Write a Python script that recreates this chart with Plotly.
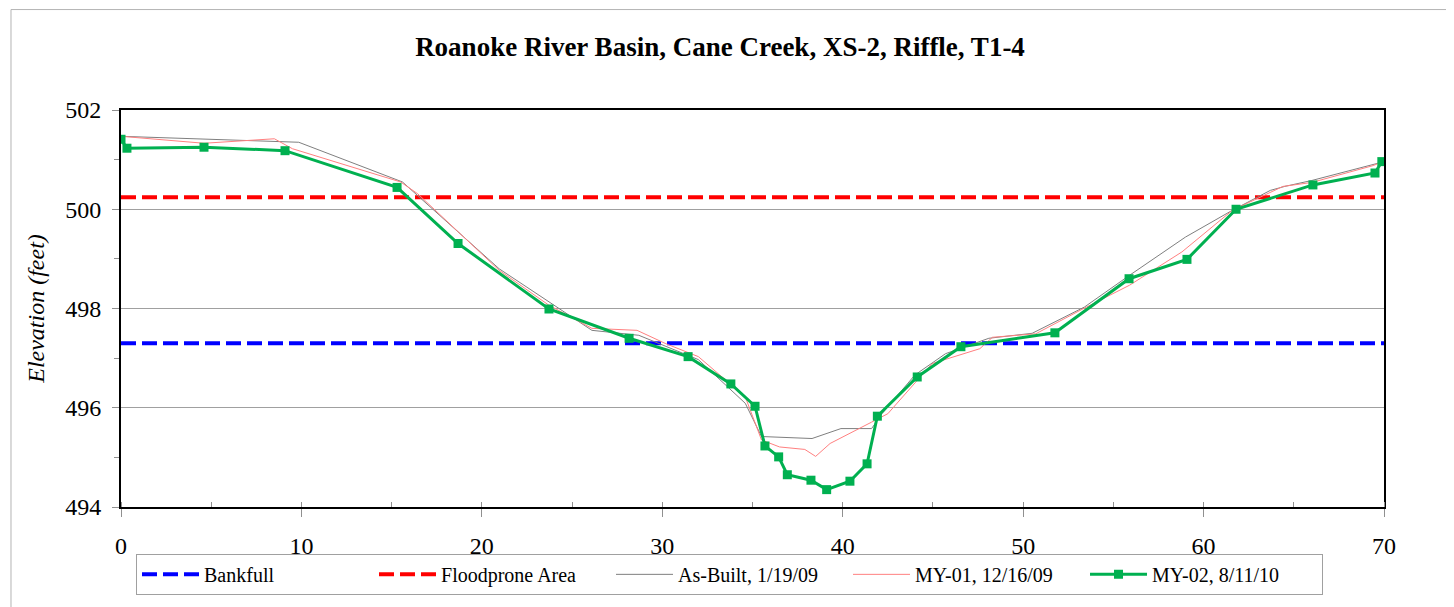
import plotly.graph_objects as go

# station (ft) and elevation (ft) for each survey
asbuilt_x = [0, 4.6, 9.85, 15.6, 20.96, 26.1, 28.7, 32.0, 34.6, 35.5, 38.3, 39.9, 41.6, 42.2,
             44.0, 45.7, 48.1, 50.5, 53.4, 55.9, 59.0, 61.6, 63.7, 64.5, 66.0, 69.8]
asbuilt_y = [501.47, 501.41, 501.35, 500.55, 498.80, 497.56, 497.46, 496.97, 496.09, 495.42,
             495.38, 495.58, 495.58, 495.89, 496.66, 497.09, 497.40, 497.50, 498.03, 498.67,
             499.44, 499.98, 500.38, 500.46, 500.58, 500.94]

my01_x = [0, 4.6, 8.5, 9.5, 15.5, 16.45, 20.96, 23.7, 26.1, 28.6, 30.2, 32.0, 34.6, 35.5, 36.5,
          37.9, 38.5, 39.3, 41.6, 42.5, 44.95, 47.6, 48.3, 50.7, 53.3, 55.9, 58.8, 61.6, 64.4,
          66.0, 69.4, 69.8]
my01_y = [501.47, 501.33, 501.42, 501.22, 500.55, 500.31, 498.77, 498.07, 497.60, 497.56,
          497.29, 497.03, 496.22, 495.35, 495.21, 495.16, 495.02, 495.28, 495.71, 495.88,
          496.89, 497.19, 497.42, 497.49, 497.99, 498.47, 499.14, 499.98, 500.46, 500.54,
          500.88, 500.94]

my02_x = [0, 0.33, 4.6, 9.09, 15.3, 18.68, 23.72, 28.16, 31.43, 33.8, 35.14, 35.69, 36.45,
          36.93, 38.24, 39.11, 40.4, 41.35, 41.92, 44.13, 46.55, 51.76, 55.87, 59.08, 61.8,
          66.06, 69.5, 69.88]
my02_y = [501.41, 501.23, 501.25, 501.18, 500.44, 499.31, 497.99, 497.40, 497.03, 496.48,
          496.03, 495.23, 495.01, 494.65, 494.54, 494.35, 494.52, 494.87, 495.83, 496.62,
          497.23, 497.51, 498.60, 498.99, 500.00, 500.49, 500.73, 500.96]

bankfull = 497.3
floodprone = 500.24
x_range = [0, 70]

serif = "'Times New Roman', 'Liberation Serif', serif"

fig = go.Figure()

fig.add_trace(go.Scatter(x=x_range, y=[bankfull, bankfull], mode="lines", name="Bankfull",
                         line=dict(color="#0000FF", width=4, dash="15px,6px")))
fig.add_trace(go.Scatter(x=x_range, y=[floodprone, floodprone], mode="lines", name="Floodprone Area",
                         line=dict(color="#FF0000", width=4, dash="15px,6px")))
fig.add_trace(go.Scatter(x=asbuilt_x, y=asbuilt_y, mode="lines", name="As-Built, 1/19/09",
                         line=dict(color="#7f7f7f", width=1)))
fig.add_trace(go.Scatter(x=my01_x, y=my01_y, mode="lines", name="MY-01, 12/16/09",
                         line=dict(color="#FF8080", width=1)))
fig.add_trace(go.Scatter(x=my02_x, y=my02_y, mode="lines+markers", name="MY-02, 8/11/10",
                         line=dict(color="#00B050", width=3),
                         marker=dict(symbol="square", size=9, color="#00B050")))

# outer chart frame
fig.add_shape(type="rect", xref="paper", yref="paper",
              x0=-0.0871, x1=1.0515, y0=-0.27, y1=1.253,
              line=dict(color="#b4b4b4", width=1), layer="below")

fig.update_layout(
    width=1446, height=599,
    margin=dict(l=113, r=70, t=102, b=100),
    paper_bgcolor="white", plot_bgcolor="white",
    font=dict(family=serif, color="black", size=24),
    title=dict(text="<b>Roanoke River Basin, Cane Creek, XS-2, Riffle, T1-4</b>",
               x=0.4924, xref="container", xanchor="center",
               y=0.935, yref="container", yanchor="middle",
               font=dict(family=serif, size=27)),
    xaxis=dict(range=x_range, dtick=10, showgrid=False, zeroline=False,
               showline=True, linecolor="black", linewidth=2, mirror=True,
               ticks="outside", ticklen=8, tickcolor="#909090", ticklabelstandoff=8,
               minor=dict(dtick=5, ticks="inside", ticklen=5, tickcolor="#909090"),
               tickfont=dict(family=serif, size=24)),
    yaxis=dict(range=[494, 502], dtick=2, showgrid=True, gridcolor="#a0a0a0", gridwidth=1,
               zeroline=False, showline=True, linecolor="black", linewidth=2, mirror=True,
               ticks="outside", ticklen=7, tickcolor="#909090", ticklabelstandoff=6,
               minor=dict(dtick=1, ticks="outside", ticklen=5, tickcolor="#909090"),
               tickfont=dict(family=serif, size=24),
               title=dict(text="<i>Elevation (feet)</i>", font=dict(family=serif, size=24),
                          standoff=14)),
    legend=dict(orientation="h", x=0.4818, xanchor="center", y=-0.118, yanchor="top",
                bordercolor="#a0a0a0", borderwidth=1, font=dict(family=serif, size=20),
                itemwidth=57, entrywidth=165, entrywidthmode="pixels"),
    showlegend=True,
)

fig.write_html("out.html")
